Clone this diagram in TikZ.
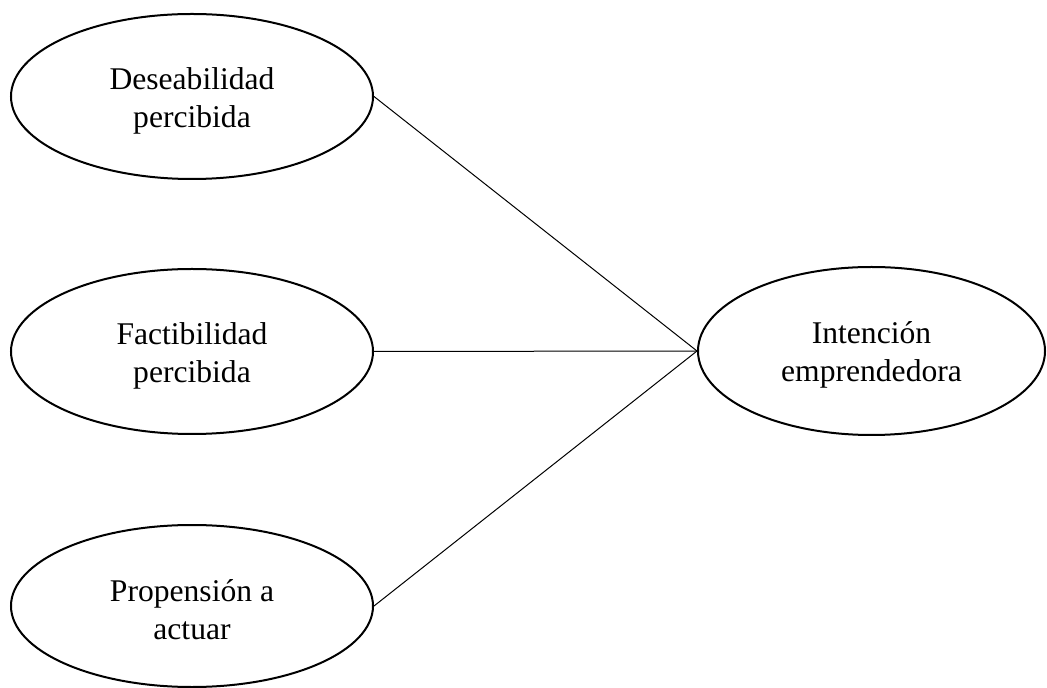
\documentclass[tikz,border=0pt]{standalone}
\usepackage{fontspec}
\setmainfont{Liberation Serif}
\usetikzlibrary{shapes.geometric}
\begin{document}
\begin{tikzpicture}[x=0.5pt,y=-0.5pt,
  oval/.style={ellipse,draw,line width=1pt,inner sep=0pt},
  txt/.style={inner sep=0pt,align=center,font=\fontsize{15.8}{19}\selectfont},
  link/.style={draw,line width=0.5pt}]
\useasboundingbox (0,0) rectangle (1047,688);
\node[oval,minimum width=181pt,minimum height=82.5pt] (des) at (192,96.5) {};
\node[oval,minimum width=181pt,minimum height=82.5pt] (fac) at (192,351.5) {};
\node[oval,minimum width=181pt,minimum height=81pt] (pro) at (192,606) {};
\node[oval,minimum width=173.5pt,minimum height=84pt] (int) at (871.5,351) {};
\node[txt] (destxt) at ([yshift=-2pt]des.center) {Deseabilidad\\percibida};
\node[txt] (factxt) at ([yshift=-2pt]fac.center) {Factibilidad\\percibida};
\node[txt] (protxt) at ([yshift=-2pt]pro.center) {Propensión a\\actuar};
\node[txt] (inttxt) at ([yshift=-2pt]int.center) {Intención\\emprendedora};
\draw[link] (des.east) -- (int.west);
\draw[link] (fac.east) -- (int.west);
\draw[link] (pro.east) -- (int.west);
\end{tikzpicture}
\end{document}
